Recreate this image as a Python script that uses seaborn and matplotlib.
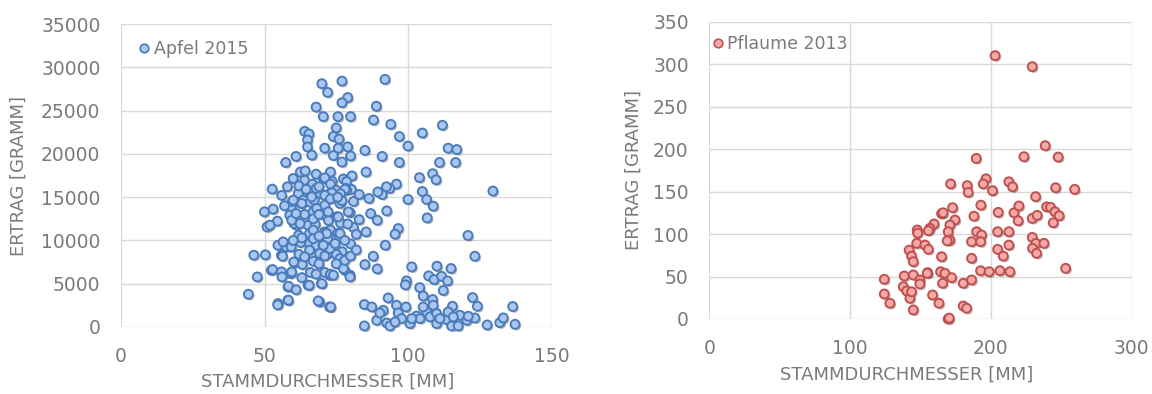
import numpy as np
import pandas as pd
import matplotlib
matplotlib.use("Agg")
import matplotlib.pyplot as plt
import matplotlib.patheffects as pe
import seaborn as sns

# ---------------- data ----------------
apfel_x = [92, 70, 77, 72, 79, 77, 68, 89, 70.5, 75.6, 80, 88, 94, 112, 75, 64, 65.5, 105, 97, 74,
           76, 65, 100, 65, 71, 75.7, 79, 114, 117, 85, 61, 66.5, 74, 80, 91, 57.4, 77, 97, 111, 116.6,
           62.5, 68, 73, 80.5, 85.4, 104, 108.6, 109.8, 60, 64, 70.5, 73.6, 77.5, 78.6, 66.7, 96, 93.6, 91, 105, 129.6,
           64.2, 71, 61.8, 65.9, 69.1, 72.2, 78.4, 80.3, 52.7, 86.4, 100, 106.5, 108.8, 106.7, 89.5, 92.5,
           87, 89.3, 92.6, 79.8, 96.6, 95.5, 85.4, 92.1, 87.9, 85, 89.3, 120.9, 123.3,
           101.3, 110.1, 115, 107.2, 109.1, 111.7, 113.8, 99.5, 99.1, 104.1, 105.3, 112.3, 93.1, 122.5, 124.2, 136.5, 84.8, 87.4, 108.6,
           91.4, 96, 99.3, 103, 106.5, 108.8, 115.5, 118.1, 123.3, 84.8, 89.1, 92.6, 93.7, 100.7, 104.2, 110, 113.5, 115.2, 117.5,
           120.5, 127.6, 132, 133.2, 137.3, 90.2, 96.6, 97.8, 107.7, 105.3, 114, 115.8, 121, 95.5, 101.3, 110, 111.1,
           59.3, 62.8, 66.9, 71, 50, 53, 50.9, 54.5, 58.8, 61.1, 65.2, 67.7, 71, 61.9, 65.7, 54.7, 57.6, 59.3, 62.6, 65.7,
           68, 70.4, 55.9, 65.7, 69.2, 72.1, 52.4, 55.9, 59.1, 60.5, 63.2, 65.2, 69.8, 72.7, 69.2, 72.7, 54.7, 58.2, 58.2,
           44.4, 47.5, 46.3, 50.3, 52.8, 56.1, 58.4, 54.6, 51.9, 60.3, 56.5, 56.3, 60.2, 59.5,
           59.7, 63.5, 66, 67.3, 71, 75.2, 79.2, 72.3, 76.5, 73, 71, 75.5, 72, 76, 72.5, 77, 71, 75, 79.8, 78, 71, 73,
           79.8, 77.5, 74, 70, 65.6, 68.7, 73.1, 58.3, 76.3, 72.8, 70.5, 74.6, 76.3, 71.7, 67, 62.4, 59.5, 75.7, 72.2,
           68.2, 63, 60, 66.4, 72.8, 78.6, 76.3,
           73, 75, 78, 76.5, 73.5, 71, 77, 73, 75.5,
           64, 67, 69, 68, 62, 64.5, 69, 61, 57, 56, 58, 67, 63, 69, 60, 62, 64, 67, 69, 66, 68, 63, 61,
           75, 78, 80, 81, 82, 83, 79, 78, 81, 83, 80, 82]
apfel_y = [28600, 28100, 28400, 27100, 26500, 25900, 25400, 25500, 24300, 24300, 24300, 23900, 23400, 23300, 23000, 22600, 22300, 22400, 22000, 22000,
           21700, 21600, 20900, 20800, 20650, 20650, 20800, 20650, 20500, 20400, 19700, 19850, 19800, 19750, 19700, 19000, 19050, 19000, 19000, 19000,
           17900, 17650, 17900, 17450, 17900, 17250, 17700, 17000, 17150, 16950, 17150, 16800, 17100, 16800, 16500, 16500, 16000, 15300, 15650, 15700,
           18030, 17230, 15420, 15500, 15420, 15300, 16000, 15900, 15920, 14840, 14730, 14730, 13950, 12600, 15600, 16200,
           13100, 12330, 13410, 13220, 11370, 10720, 10980, 9440, 8170, 7210, 6710, 10570, 8170,
           6940, 7020, 6750, 5900, 5480, 5860, 5320, 5320, 4860, 4550, 3580, 4210, 3350, 3400, 2390, 2360, 2590, 2310, 3170,
           1930, 2510, 2310, 1270, 1730, 2510, 2390, 1350, 1040, 120, 770, 460, 120, 390, 970, 390, 850, 120, 120,
           770, 230, 500, 1040, 310, 1620, 1620, 970, 1160, 2310, 1730, 1160, 1240, 580, 970, 1550, 970,
           13870, 14270, 13300, 12910, 13300, 13610, 11560, 12220, 12910, 11760, 11760, 11840, 10980, 10600, 10800, 9440, 9250, 9250, 9760, 9640,
           9440, 9440, 8290, 8870, 8490, 8490, 6550, 6360, 6170, 7440, 7210, 4820, 5010, 5980, 2890, 2310, 2700, 3090, 4620,
           3780, 5780, 8290, 8330, 6630, 5780, 4700, 2550, 11760, 11950, 9830, 8170, 7510, 6360,
           14500, 14650, 14400, 14680, 14070, 12720, 13300, 12300, 12000, 11200, 10900, 10800, 10200, 10400, 9000, 8700, 8200, 8400, 5980, 6550, 6300, 6100,
           5780, 6750, 5980, 5010, 4820, 3010, 2310, 3090, 7900, 9060, 9440, 9640, 10800, 10800, 11180, 11950, 12330, 12720, 13300,
           13690, 14270, 14650, 15030, 15220, 15800, 14270,
           16500, 15800, 15900, 15400, 15500, 15200, 14600, 14800, 15000,
           13000, 12500, 13000, 16000, 16300, 15900, 16200, 13100, 14000, 15200, 16200, 10200, 10300, 10500, 10000, 8400, 8100, 7600, 7300, 6300, 6100, 5700, 4300,
           7300, 7700, 9600, 11500, 10700, 12400, 11900, 10000, 14500, 15300, 8200, 8900]

pflaume_x = [203, 229.4, 238.6, 189.6, 223.5, 247.8, 171.4, 183.2, 183.9, 196.5, 194.6, 201.2, 212.8, 215.4, 246, 259.5, 231.8,
             172.8, 165, 166, 174.5, 170.9, 159.6, 156.7, 155.6, 147.7, 148, 169.7, 170.9, 169, 188, 192.9, 205.2, 216.4, 219.9,
             219.4, 229.4, 232.9, 239.6, 242.4, 245.5, 248.5, 244.3,
             189.9, 193.4, 186.3, 192.7, 204.8, 212.8, 212.8, 204.8, 208.8, 229.4, 232, 237.7, 229.6, 232.5, 165, 186.3,
             147.3, 153.2, 155.6, 142, 143.7, 144.9, 155.1, 164.3, 167.4, 172.1, 165.7, 180.4, 186.3, 192.7, 198.8, 206.4,
             213.5, 253.1, 124.3, 124.3, 128.3, 138.5, 144.9, 149.6, 149.6, 154.8, 137.8, 140.2, 142.5, 144.9, 143.7,
             158.6, 163.1, 180.4, 182.8, 169.7, 170.4]
pflaume_y = [310, 297, 204, 189, 191, 190.6, 159, 157, 149, 165, 159, 151, 161.5, 155.6, 154.5, 152.6, 144,
             131, 124, 125, 116.5, 110.6, 111.8, 106.7, 103.9, 104.7, 101, 102.7, 93, 92, 121, 134, 125.5, 125, 133,
             115.6, 118.4, 122, 132, 131.4, 126.2, 121.5, 113.3,
             102.7, 98.8, 91, 91, 102.7, 102.7, 87, 82, 74, 96, 89, 89, 83.2, 77.3, 73.3, 71.4,
             89, 87, 82, 81, 74, 67.4, 54.5, 55.6, 53.8, 48.6, 42, 42, 45.9, 56.8, 55.6, 56.8,
             55.6, 59.6, 46.7, 29.4, 18.5, 50.6, 51.8, 45.9, 41.2, 53.8, 38, 33, 24.3, 10.6, 32,
             28.2, 18.5, 15.3, 12.6, 0, 1]

apfel_label = "Apfel 2015"
pflaume_label = "Pflaume 2013"
x_title = "STAMMDURCHMESSER [MM]"
y_title = "ERTRAG [GRAMM]"

df_a = pd.DataFrame({"d": apfel_x, "e": apfel_y})
df_p = pd.DataFrame({"d": pflaume_x, "e": pflaume_y})

# ---------------- style ----------------
sns.set_style("white")
plt.rcParams["font.family"] = ["DejaVu Sans"]
TXT = "#7a7a7a"
GRID = "#d9d9d9"

fig = plt.figure(figsize=(11.52, 3.94), dpi=100)
fig.patch.set_facecolor("white")
ax1 = fig.add_axes([121 / 1152, 67 / 394, 430.5 / 1152, 303 / 394])
ax2 = fig.add_axes([709.3 / 1152, 75 / 394, 422.4 / 1152, 297.3 / 394])

shadow = [pe.SimplePatchShadow(offset=(1.2, -1.2), shadow_rgbFace="black", alpha=0.28), pe.Normal()]

def style(ax, df, face, edge, label, xlim, xstep, ylim, ystep, leg_x, leg_y, xl, yl):
    sns.scatterplot(data=df, x="d", y="e", ax=ax, s=42, color=face, edgecolor=edge,
                    linewidth=1.4, label=label, clip_on=False, zorder=3, legend=False)
    coll = ax.collections[-1]
    coll.set_path_effects(shadow)
    ax.set_xlim(*xlim)
    ax.set_ylim(*ylim)
    ax.set_xticks(np.arange(xlim[0], xlim[1] + 1, xstep))
    ax.set_yticks(np.arange(ylim[0], ylim[1] + 1, ystep))
    ax.grid(True, color=GRID, linewidth=1.0)
    ax.set_axisbelow(True)
    for s in ax.spines.values():
        s.set_visible(False)
    ax.tick_params(axis="both", length=0, labelsize=13.5, colors=TXT)
    ax.tick_params(axis="y", pad=14.8)
    ax.tick_params(axis="x", pad=14.5)
    ax.set_xlabel(x_title, fontsize=13, color=TXT)
    ax.set_ylabel(y_title, fontsize=13, color=TXT)
    ax.xaxis.set_label_coords(*xl)
    ax.yaxis.set_label_coords(*yl)
    h = plt.Line2D([], [], marker="o", linestyle="none", markersize=6.2,
                   markerfacecolor=face, markeredgecolor=edge, markeredgewidth=1.2)
    leg = ax.legend([h], [label], loc="center left", bbox_to_anchor=(leg_x, leg_y),
                    frameon=False, fontsize=12.5, handlelength=0.6, handletextpad=0.25,
                    borderaxespad=0, borderpad=0)
    for t in leg.get_texts():
        t.set_color(TXT)

style(ax1, df_a, "#a9c7f0", "#4a7cbc", apfel_label, (0, 150), 50, (0, 35000), 5000,
      0.0414, 0.917, (0.48, -0.152), (-0.216, 0.498))
style(ax2, df_p, "#f4aaa8", "#c0504d", pflaume_label, (0, 300), 100, (0, 350), 50,
      0.008, 0.926, (0.466, -0.156), (-0.157, 0.50))

fig.savefig("out.png", dpi=100, facecolor="white")
